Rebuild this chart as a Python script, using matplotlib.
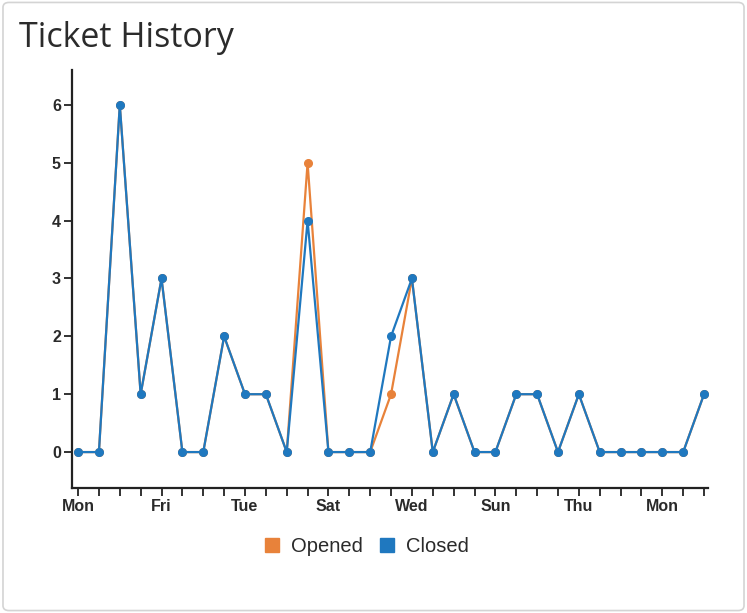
import matplotlib.pyplot as plt
import matplotlib.patches as mpatches
from matplotlib.lines import Line2D

# daily ticket counts, 31 days starting on a Monday
days = ["Mon", "Tue", "Wed", "Thu", "Fri", "Sat", "Sun"]
opened = [0, 0, 6, 1, 3, 0, 0, 2, 1, 1, 0, 5, 0, 0, 0, 1,
          3, 0, 1, 0, 0, 1, 1, 0, 1, 0, 0, 0, 0, 0, 1]
closed = [0, 0, 6, 1, 3, 0, 0, 2, 1, 1, 0, 4, 0, 0, 0, 2,
          3, 0, 1, 0, 0, 1, 1, 0, 1, 0, 0, 0, 0, 0, 1]
label_every = 4

orange = "#e8823a"
blue = "#1f78bf"
text_col = "#2a2a2a"

x = list(range(len(closed)))
tick_labels = [days[i % 7] if i % label_every == 0 else "" for i in x]

fig = plt.figure(figsize=(7.47, 6.13), dpi=100)

# panel border (behind the axes)
fig.patches.append(mpatches.FancyBboxPatch(
    (0.004, 0.004), 0.992, 0.992, boxstyle="round,pad=0,rounding_size=0.008",
    transform=fig.transFigure, facecolor="white", edgecolor="#d4d4d4",
    linewidth=1.2, zorder=-5))

fig.text(0.025, 0.938, "Ticket History", fontsize=24.5, family="Open Sans",
         color="#2b2b2b", va="center", ha="left")

ax = fig.add_axes([0.0964, 0.204, 0.8514, 0.682])
ax.patch.set_alpha(0)
ax.plot(x, opened, color=orange, lw=1.6, marker="o", ms=5.5, zorder=2)
ax.plot(x, closed, color=blue, lw=1.6, marker="o", ms=5.5, zorder=3)

ax.set_xlim(-0.29, 30.19)
ax.set_ylim(-0.62, 6.605)
ax.set_xticks(x)
ax.set_xticklabels(tick_labels)
ax.set_yticks(range(0, 7))

for s in ["top", "right"]:
    ax.spines[s].set_visible(False)
for s in ["left", "bottom"]:
    ax.spines[s].set_color("#222222")
    ax.spines[s].set_linewidth(1.6)

ax.tick_params(axis="both", direction="out", length=6, width=1.3, color="#222222",
               labelcolor=text_col, labelsize=11.5)
ax.tick_params(axis="x", pad=2)
ax.tick_params(axis="y", pad=2)
for lbl in ax.get_xticklabels() + ax.get_yticklabels():
    lbl.set_family("Liberation Sans")
    lbl.set_fontweight("bold")

handles = [Line2D([], [], marker="s", ls="none", ms=10, color=orange),
           Line2D([], [], marker="s", ls="none", ms=10, color=blue)]
fig.legend(handles, ["Opened", "Closed"], loc="center", bbox_to_anchor=(0.488, 0.109),
           ncol=2, frameon=False, handletextpad=0.35, columnspacing=0.6,
           handlelength=1.2, prop={"family": "Liberation Sans", "size": 14.5},
           labelcolor=text_col)

fig.savefig("out.png", dpi=100)
